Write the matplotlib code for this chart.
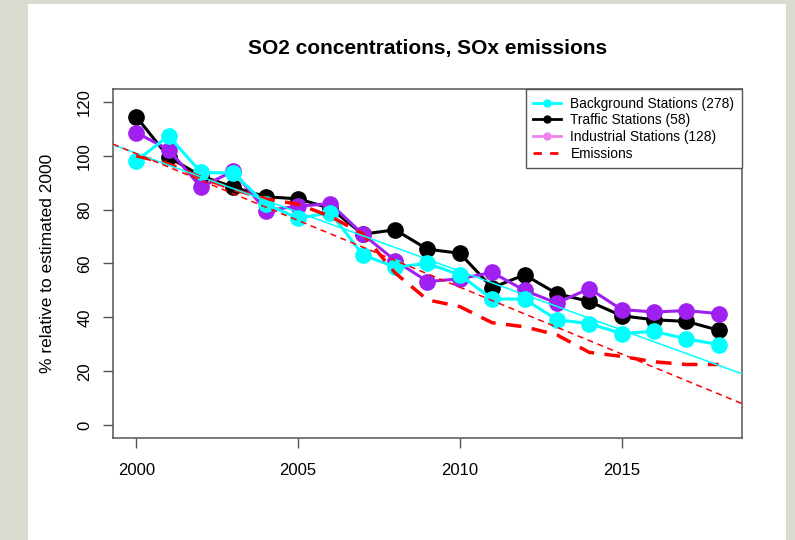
import numpy as np
import matplotlib
matplotlib.use('Agg')
import matplotlib.pyplot as plt
from matplotlib.patches import Rectangle
from matplotlib.lines import Line2D

plt.rcParams['font.family'] = ['Liberation Sans', 'DejaVu Sans']

years = np.arange(2000, 2019)

# % relative to estimated 2000 level
background = [98.1, 107.4, 93.8, 93.6, 82.1, 76.8, 78.9, 63.2, 58.7, 60.0,
              55.8, 46.8, 46.8, 39.1, 37.7, 34.0, 34.8, 32.0, 29.9]
traffic = [114.5, 99.5, 92.5, 88.4, 84.8, 84.0, 80.5, 70.9, 72.5, 65.3,
           63.8, 51.0, 55.8, 48.8, 45.9, 40.6, 39.1, 38.5, 35.2]
industrial = [108.6, 102.3, 88.3, 94.4, 79.6, 81.3, 82.2, 70.9, 61.1, 53.3,
              54.3, 56.7, 50.0, 45.3, 50.7, 42.9, 42.0, 42.5, 41.4]
emissions = [100.0, 97.0, 92.0, 87.5, 84.0, 82.0, 77.5, 71.0, 56.5, 46.5,
             44.0, 38.0, 36.5, 33.5, 27.0, 25.5, 23.5, 22.5, 22.5]

labels = ['Background Stations (278)', 'Traffic Stations (58)',
          'Industrial Stations (128)', 'Emissions']

fig = plt.figure(figsize=(7.95, 5.4), dpi=100)
fig.patch.set_facecolor('#dadbd0')
fig.patches.append(Rectangle((0.0352, 0.0), 0.9535, 0.9926, transform=fig.transFigure,
                             facecolor='white', edgecolor='none', zorder=-1))

ax = fig.add_axes([0.1421, 0.1889, 0.7912, 0.6463])
ax.set_facecolor('white')

ms = 11
ax.plot(years, traffic, '-o', color='black', lw=2.2, ms=ms, zorder=3)
ax.plot(years, industrial, '-o', color='#A020F0', lw=2.2, ms=ms, zorder=4)
ax.plot(years, background, '-o', color='cyan', lw=2.2, ms=ms, zorder=5)
ax.plot(years, emissions, color='red', lw=2.5, dashes=(4.5, 3), zorder=6)

# linear trends
b_slope, b_icpt = np.polyfit(years, background, 1)
e_slope, e_icpt = np.polyfit(years, emissions, 1)
ax.axline((2000, b_icpt + b_slope * 2000), slope=b_slope, color='cyan', lw=1.1, zorder=7)
ax.axline((2000, e_icpt + e_slope * 2000), slope=e_slope, color='red', lw=1.1,
          dashes=(4, 3), zorder=7)

ax.set_xlim(1999.28, 2018.72)
ax.set_ylim(-4.8, 124.8)
ax.set_xticks([2000, 2005, 2010, 2015])
ax.set_yticks(np.arange(0, 121, 20))
for lab in ax.get_yticklabels():
    lab.set_rotation(90)
    lab.set_va('center')
ax.tick_params(axis='both', direction='out', length=7, width=1, color='#555555',
               labelsize=12)
ax.tick_params(axis='x', pad=11)
ax.tick_params(axis='y', pad=8)
for sp in ax.spines.values():
    sp.set_color('#555555')
    sp.set_linewidth(1.1)

ax.set_ylabel('% relative to estimated 2000', fontsize=12.5, labelpad=16)
ax.set_title('SO2 concentrations, SOx emissions', fontsize=15, fontweight='bold', pad=25)

handles = [
    Line2D([], [], color='cyan', lw=2, marker='o', ms=5),
    Line2D([], [], color='black', lw=2, marker='o', ms=5),
    Line2D([], [], color='violet', lw=2, marker='o', ms=5),
    Line2D([], [], color='red', lw=2, dashes=(3, 3)),
]
leg = ax.legend(handles, labels, loc='upper right', bbox_to_anchor=(1, 1),
                borderaxespad=0, fontsize=9.9, fancybox=False, framealpha=1,
                edgecolor='#555555', handlelength=2.0, handletextpad=0.7,
                labelspacing=0.2, borderpad=0.55)
leg.get_frame().set_linewidth(1)
leg.set_zorder(10)

fig.savefig('out.png', dpi=100)
